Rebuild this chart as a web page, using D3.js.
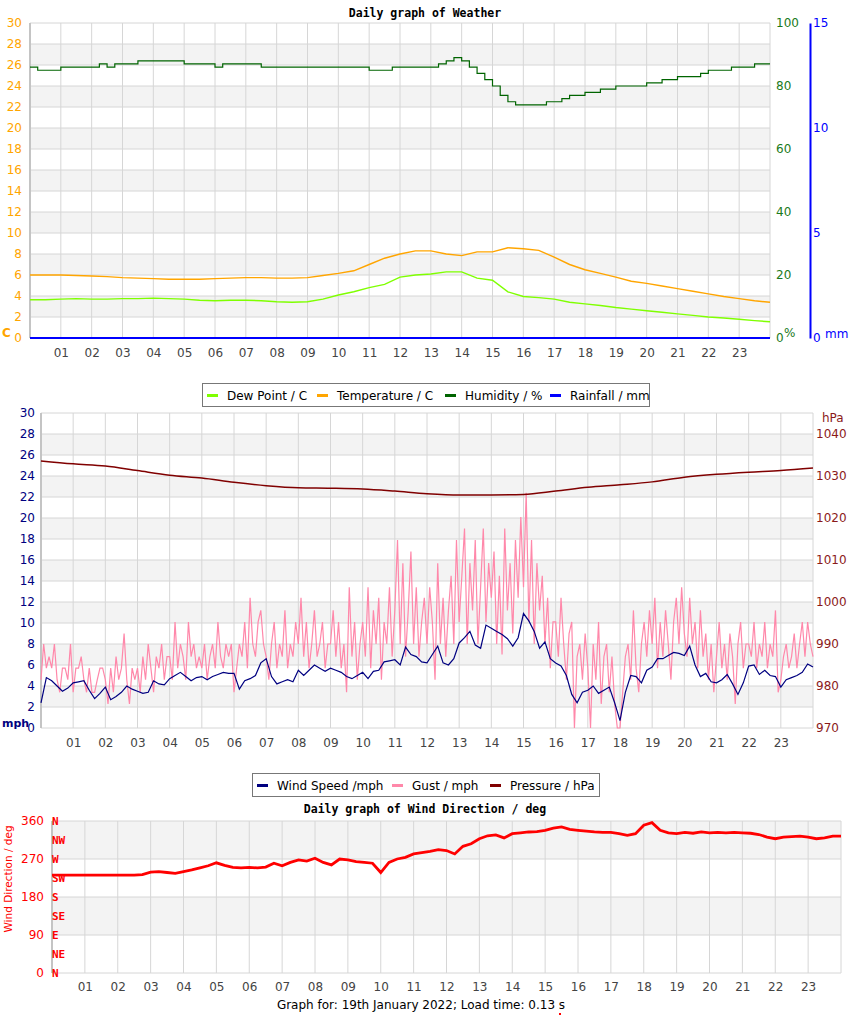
<!DOCTYPE html>
<html><head><meta charset="utf-8">
<script src="https://cdn.jsdelivr.net/npm/d3@7"></script>
<style>body{margin:0;background:#fff;} svg{display:block;font-family:"DejaVu Sans",sans-serif;}</style>
</head><body><svg id="c" width="850" height="1017"></svg>
<script>
// ---------------- DATA ----------------
const hourLabels = ["01","02","03","04","05","06","07","08","09","10","11","12","13","14","15","16","17","18","19","20","21","22","23"];
// every 30 min, 00:00 .. 24:00
const temperature = [6.0,6.0,6.0,5.95,5.9,5.85,5.75,5.7,5.65,5.6,5.6,5.6,5.65,5.7,5.75,5.75,5.7,5.7,5.75,5.95,6.15,6.4,7.0,7.6,8.0,8.3,8.3,8.0,7.85,8.2,8.2,8.6,8.5,8.35,7.7,7.0,6.5,6.15,5.8,5.4,5.2,4.95,4.7,4.45,4.2,3.95,3.75,3.55,3.4];
const dewPoint = [3.65,3.65,3.7,3.75,3.7,3.7,3.75,3.75,3.8,3.75,3.7,3.6,3.55,3.6,3.6,3.55,3.45,3.4,3.45,3.7,4.1,4.4,4.8,5.1,5.8,6.0,6.1,6.3,6.3,5.7,5.5,4.4,3.95,3.85,3.7,3.4,3.25,3.1,2.9,2.75,2.6,2.45,2.3,2.15,2.0,1.9,1.78,1.65,1.55];
// every 15 min
const humidity = [86,85,85,85, 86,86,86,86, 86,87,86,87, 87,87,88,88, 88,88,88,88, 87,87,87,87, 86,87,87,87, 87,87,86,86, 86,86,86,86, 86,86,86,86, 86,86,86,86, 85,85,85,86, 86,86,86,86, 86,87,88,89, 88,86,84,82, 80,77,75,74, 74,74,74,75, 75,76,77,77, 78,78,79,79, 80,80,80,80, 81,81,82,82, 83,83,83,84, 85,85,85,86, 86,86,87,87, 87];
// hourly
const rainfall = [0,0,0,0,0,0,0,0,0,0,0,0,0,0,0,0,0,0,0,0,0,0,0,0,0];
const pressure = [1033.6,1032.9,1032.4,1031.3,1030.2,1029.5,1028.5,1027.7,1027.2,1027.1,1026.9,1026.4,1025.8,1025.5,1025.5,1025.6,1026.4,1027.3,1027.9,1028.6,1029.7,1030.4,1030.9,1031.3,1031.9];
// every 10 min
const windSpeed = [
 2.4,4.8,4.5,4.0,3.5,3.8, 4.3,4.4,4.5,3.6,2.8,3.3, 3.9,2.7,3.0,3.4,4.0,3.7, 3.5,3.3,3.4,4.5,4.2,4.1,
 4.7,5.0,5.3,4.9,4.5,4.8, 4.9,4.6,4.9,5.1,5.3,5.2, 5.2,3.7,4.5,4.7,5.0,6.2, 6.6,4.9,4.2,4.4,4.6,4.4,
 5.5,5.0,5.5,6.0,5.7,5.4, 5.7,5.5,5.3,4.9,4.7,5.0, 5.3,4.7,5.4,5.5,6.3,6.4, 6.5,6.0,7.7,7.0,6.8,6.3,
 6.2,7.0,7.8,6.2,6.0,6.6, 8.1,8.6,9.2,7.9,7.6,9.8, 9.5,9.2,8.9,8.5,7.8,8.6, 10.9,10.2,9.2,7.6,8.2,6.6,
 6.2,5.9,5.0,3.2,2.4,3.4, 3.6,4.0,3.3,3.6,3.9,2.4, 0.7,3.4,5.0,4.9,4.3,5.5, 5.8,6.6,6.6,6.9,7.2,7.1,
 6.9,7.8,6.0,4.9,5.2,4.4, 4.3,4.6,5.1,4.2,3.2,4.3, 5.9,6.0,5.1,5.5,5.0,4.9, 3.9,4.6,4.8,5.0,5.3,6.1, 5.8];
// every 5 min
const gust = [
 4.6,8.0,5.7,6.8,5.7,8.0,4.6,3.4,5.7,5.7,4.6,8.0,
 3.4,5.7,5.7,6.8,4.6,3.4,5.7,3.4,3.4,4.6,5.7,5.7,
 4.6,2.3,5.7,3.4,6.8,4.6,5.7,9.0,4.6,2.3,5.7,4.6,
 5.7,3.4,6.8,4.6,8.0,5.7,3.4,6.8,5.7,8.0,4.6,6.8,
 6.8,4.6,10.1,5.7,8.0,6.8,4.6,10.1,6.8,8.0,5.7,6.8,
 5.7,8.0,4.6,6.8,8.0,5.7,10.1,6.8,5.7,8.0,6.8,8.0,
 3.4,5.7,8.0,6.8,10.1,5.7,12.4,8.0,6.8,10.1,11.2,8.0,
 6.8,4.6,8.0,10.1,5.7,8.0,6.8,11.2,5.7,8.0,6.8,10.1,
 8.0,12.4,6.8,10.1,5.7,8.0,11.2,6.8,8.0,10.1,5.7,8.0,
 8.0,11.2,6.8,10.1,5.7,8.0,3.4,13.4,6.8,10.1,4.6,8.0,
 10.1,6.8,13.4,5.7,11.2,8.0,12.4,4.6,10.1,8.0,13.4,6.8,
 11.2,17.9,8.0,15.7,6.8,11.2,16.8,8.0,13.4,6.8,10.1,12.4,
 8.0,13.4,10.1,4.6,15.7,8.0,12.4,6.8,11.2,14.5,8.0,17.9,
 10.1,14.5,19.0,8.0,15.7,11.2,17.9,8.0,13.4,19.0,10.1,15.7,
 12.4,16.8,8.0,14.5,7.0,19.0,11.2,15.7,9.0,17.9,12.4,20.1,
 13.4,22.4,10.1,17.9,8.0,15.7,11.2,14.5,8.0,12.4,5.7,10.1,
 10.1,6.8,12.4,8.0,4.6,9.0,10.1,0.0,6.8,8.0,4.6,9.0,
 5.7,0.0,8.0,4.6,10.1,2.3,6.8,8.0,3.4,6.8,2.3,0.0,
 0.0,3.4,6.8,8.0,4.6,11.2,5.7,3.4,8.0,10.1,6.8,11.2,
 8.0,12.4,5.7,10.1,6.8,11.2,8.0,4.6,10.1,12.4,8.0,13.4,
 9.0,6.8,12.4,8.0,10.1,5.7,11.2,6.8,9.0,4.6,8.0,3.4,
 6.8,10.1,5.7,8.0,4.6,9.0,6.8,2.3,8.0,10.1,5.7,8.0,
 8.0,6.8,10.1,5.7,8.0,6.8,10.1,5.7,8.0,6.8,11.2,3.4,
 4.6,6.8,8.0,5.7,6.8,9.0,5.7,8.0,10.1,6.8,10.1,8.0, 6.8];
// every 15 min
const windDir = [232,232,232,232, 232,232,232,232, 232,232,232,233, 239,240,238,236, 240,244,249,254,
 261,255,250,249, 250,249,251,260, 254,262,268,265, 272,262,256,270, 268,264,262,260,
 238,262,270,274, 282,285,288,292, 290,282,300,306, 318,325,327,320, 330,332,334,335,
 338,343,346,340, 338,336,334,333, 333,330,326,330, 350,356,338,332, 330,333,331,334,
 332,333,332,333, 332,331,328,322, 318,322,323,324, 322,318,320,324, 324];
const compass = ["N","NE","E","SE","S","SW","W","NW","N"];
const legend1 = [["Dew Point / C","#7fff00"],["Temperature / C","#ffa500"],["Humidity / %","#006400"],["Rainfall / mm","#0000ff"]];
const legend2 = [["Wind Speed /mph","#000080"],["Gust / mph","#ff88aa"],["Pressure / hPa","#800000"]];

// ---------------- DRAW ----------------
const svg = d3.select("#c");
const ser = (arr, step) => arr.map((v,i)=>[i*step, v]);
const GRID="#d6d6d6", BAND="#f3f3f3";

function frame(x, y, ymin, ymax, bandStep, gridVals, bandStarts){
  const g = svg.append("g");
  const [x0,x1] = x.range();
  bandStarts.forEach(v=>{
    g.append("rect").attr("x",x0).attr("width",x1-x0)
     .attr("y",y(v+bandStep)).attr("height",y(v)-y(v+bandStep)).attr("fill",BAND);
  });
  gridVals.forEach(v=>{
    g.append("line").attr("x1",x0).attr("x2",x1).attr("y1",y(v)).attr("y2",y(v))
     .attr("stroke",GRID).attr("stroke-width",1);
  });
  d3.range(1,24).forEach(h=>{
    g.append("line").attr("x1",x(h)).attr("x2",x(h)).attr("y1",y(ymin)).attr("y2",y(ymax))
     .attr("stroke",GRID).attr("stroke-width",1);
  });
  g.append("line").attr("x1",x1).attr("x2",x1).attr("y1",y(ymin)).attr("y2",y(ymax)).attr("stroke",GRID);
  g.append("line").attr("x1",x0).attr("x2",x0).attr("y1",y(ymin)).attr("y2",y(ymax)).attr("stroke","#c4c4c4").attr("stroke-width",2);
  return g;
}
function xAxis(x, yPos, pad){
  const a = svg.append("g").attr("transform",`translate(0,${yPos})`)
    .call(d3.axisBottom(x).tickValues(d3.range(1,24)).tickFormat((d,i)=>hourLabels[i]).tickSize(0).tickPadding(pad));
  a.select(".domain").remove();
  a.selectAll("text").attr("fill","#444").style("font-size","12px").style("font-family","DejaVu Sans");
}
function yAxis(gen, xPos, color, size, keepDomain){
  const a = svg.append("g").attr("transform",`translate(${xPos},0)`).call(gen);
  if(!keepDomain) a.select(".domain").remove(); else a.select(".domain").attr("stroke",color).attr("stroke-width",2);
  a.selectAll("text").attr("fill",color).style("font-size",size).style("font-family","DejaVu Sans");
  return a;
}
function title(txt, y){
  svg.append("text").attr("x",425).attr("y",y).attr("text-anchor","middle")
   .style("font-family","DejaVu Sans Mono").style("font-weight","bold").style("font-size","11.5px").attr("fill","#000").text(txt);
}
function legend(items, x0, y0, w, xs){
  const g = svg.append("g");
  g.append("rect").attr("x",x0+0.5).attr("y",y0+0.5).attr("width",w).attr("height",23).attr("fill","#fff").attr("stroke","#777");
  items.forEach((it,i)=>{
    g.append("line").attr("x1",xs[i]).attr("x2",xs[i]+11).attr("y1",y0+12.5).attr("y2",y0+12.5).attr("stroke",it[1]).attr("stroke-width",3);
    g.append("text").attr("x",xs[i]+20).attr("y",y0+16.5).style("font-size","12px").attr("fill","#000").text(it[0]);
  });
}

// ===== Chart 1 =====
const x1 = d3.scaleLinear([0,24],[30,770]);
const yT = d3.scaleLinear([0,30],[338,23]);
const yH = d3.scaleLinear([0,100],[338,23]);
const yR = d3.scaleLinear([0,15],[338,23]);
title("Daily graph of Weather", 17);
frame(x1, yT, 0, 30, 2, d3.range(0,31,2), [2,6,10,14,18,22,26]);
const line = (x,y,curve)=>d3.line().x(d=>x(d[0])).y(d=>y(d[1])).curve(curve||d3.curveLinear);
svg.append("path").datum(ser(humidity,0.25)).attr("d",line(x1,yH,d3.curveStepAfter)).attr("fill","none").attr("stroke","#006400").attr("stroke-width",1.2);
svg.append("path").datum(ser(temperature,0.5)).attr("d",line(x1,yT)).attr("fill","none").attr("stroke","#ffa500").attr("stroke-width",1.4);
svg.append("path").datum(ser(dewPoint,0.5)).attr("d",line(x1,yT)).attr("fill","none").attr("stroke","#7fff00").attr("stroke-width",1.4);
svg.append("path").datum(ser(rainfall,1)).attr("d",line(x1,yR)).attr("fill","none").attr("stroke","#0000ff").attr("stroke-width",2);
yAxis(d3.axisLeft(yT).tickValues(d3.range(0,31,2)).tickSize(0).tickPadding(8), 30, "#ffa500", "12px");
yAxis(d3.axisRight(yH).tickValues([0,20,40,60,80,100]).tickSize(0).tickPadding(6), 770, "#1a7a1a", "12px");
yAxis(d3.axisRight(yR).tickValues([0,5,10,15]).tickSize(0).tickPadding(3), 810, "#0000ff", "12px", true);
xAxis(x1, 338, 10);
svg.append("text").attr("x",2).attr("y",337).attr("fill","#ffa500").style("font-size","12px").style("font-weight","bold").text("C");
svg.append("text").attr("x",784).attr("y",337).attr("fill","#1a7a1a").style("font-size","12px").text("%");
svg.append("text").attr("x",825).attr("y",338).attr("fill","#0000ff").style("font-size","12px").text("mm");

// ===== Chart 2 =====
const x2 = d3.scaleLinear([0,24],[41,813]);
const yW = d3.scaleLinear([0,30],[728,413]);
const yP = d3.scaleLinear([970,1045],[728,413]);
title("Daily graph of Weather", 404);
legend(legend1, 202, 383, 447, [207,317,445,550]);
frame(x2, yW, 0, 30, 2, d3.range(0,31,2), [2,6,10,14,18,22,26]);
svg.append("path").datum(ser(gust,1/12)).attr("d",line(x2,yW)).attr("fill","none").attr("stroke","#ff88aa").attr("stroke-width",1.2);
svg.append("path").datum(ser(windSpeed,1/6)).attr("d",line(x2,yW)).attr("fill","none").attr("stroke","#000080").attr("stroke-width",1.2);
svg.append("path").datum(ser(pressure,1)).attr("d",line(x2,yP,d3.curveMonotoneX)).attr("fill","none").attr("stroke","#800000").attr("stroke-width",1.5);
yAxis(d3.axisLeft(yW).tickValues(d3.range(0,31,2)).tickSize(0).tickPadding(6), 41, "#000080", "12px");
yAxis(d3.axisRight(yP).tickValues(d3.range(970,1041,10)).tickFormat(d3.format("d")).tickSize(0).tickPadding(3), 813, "#8b1a1a", "12px");
xAxis(x2, 728, 10);
svg.append("text").attr("x",2).attr("y",727).attr("fill","#000080").style("font-size","11px").style("font-weight","bold").text("mph");
svg.append("text").attr("x",822).attr("y",422).attr("fill","#8b1a1a").style("font-size","12px").text("hPa");
legend(legend2, 252, 773, 347, [257,392,490]);

// ===== Chart 3 =====
const x3 = d3.scaleLinear([0,24],[52,841]);
const yD = d3.scaleLinear([0,360],[973,821]);
title("Daily graph of Wind Direction / deg", 813);
frame(x3, yD, 0, 360, 90, [0,90,180,270,360], [90,270]);
svg.append("path").datum(ser(windDir,0.25)).attr("d",line(x3,yD)).attr("fill","none").attr("stroke","#ff0000").attr("stroke-width",2.8);
yAxis(d3.axisLeft(yD).tickValues([0,90,180,270,360]).tickSize(0).tickPadding(8), 52, "#ff0000", "12px");
compass.forEach((c,i)=>{
  svg.append("text").attr("x",52).attr("y",yD(i*45)+4).attr("fill","#ff0000")
   .style("font-family","DejaVu Sans Mono").style("font-weight","bold").style("font-size","11px").text(c);
});
svg.append("text").attr("transform",`translate(12,${879}) rotate(-90)`).attr("text-anchor","middle")
  .attr("fill","#ff0000").style("font-size","10.5px").text("Wind Direction / deg");
xAxis(x3, 973, 9);
svg.append("text").attr("x",421).attr("y",1009).attr("text-anchor","middle").attr("fill","#000").style("font-size","12px")
  .text("Graph for: 19th January 2022; Load time: 0.13 s");
svg.append("rect").attr("x",559).attr("y",1013).attr("width",2).attr("height",2).attr("fill","#ff0000");
</script></body></html>
